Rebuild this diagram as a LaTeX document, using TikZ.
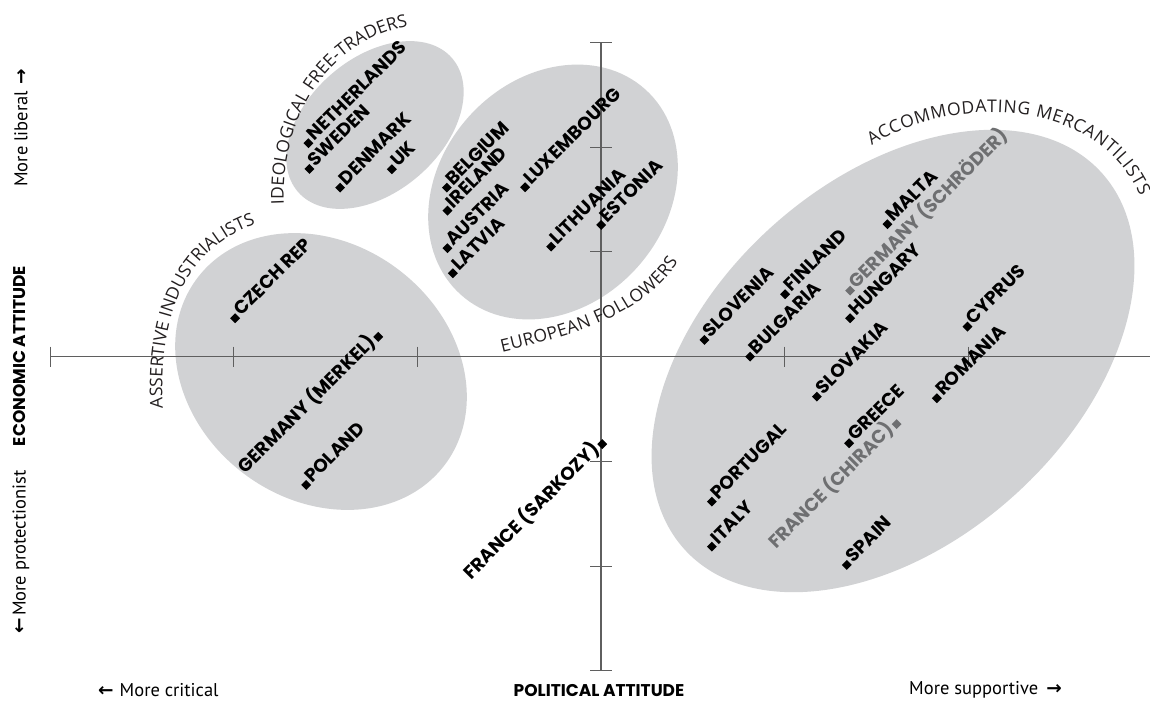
\documentclass[tikz,border=0pt]{standalone}
\usepackage{fontspec}
\setmainfont{PT Sans}
\newfontfamily\cfont{Poppins}
\newfontfamily\gfont{Open Sans}
\newfontfamily\symfont{DejaVu Sans}
\usetikzlibrary{shapes.geometric,decorations.text}
\definecolor{blobgray}{RGB}{209,210,212}
\definecolor{axisgray}{RGB}{95,95,95}
\definecolor{txtgray}{RGB}{110,111,113}
\definecolor{labcol}{RGB}{35,31,32}
\newcommand\mkbox{\rule{7pt}{7pt}}
\newcommand\glfont{\gfont\fontsize{17.5}{17.5}\selectfont}
\begin{document}
\begin{tikzpicture}[x=1pt,y=-1pt,
  blob/.style={ellipse, fill=blobgray, draw=none, inner sep=0pt},
  axisline/.style={draw=axisgray, line width=1.3pt},
  tickline/.style={draw=axisgray, line width=1pt},
  cty/.style={font=\cfont\bfseries\fontsize{18.5}{18.5}\selectfont, inner sep=0pt, rotate=45},
  ctyg/.style={cty, text=txtgray},
  axtitle/.style={font=\cfont\bfseries\fontsize{17}{17}\selectfont, inner sep=0pt},
  axnote/.style={font=\fontsize{18.5}{18.5}\selectfont, inner sep=0pt},
  grptext/.style={decorate, decoration={text along path, text align={fit to path}, text color=labcol, text={|\glfont|#1}}}]
\useasboundingbox (0,0) rectangle (1150,702);
\fill[white] (0,0) rectangle (1150,702);

% groups
\node[blob, minimum width=204pt, minimum height=134pt, rotate=41] (ift) at (375,125) {};
\node[blob, minimum width=276pt, minimum height=226pt, rotate=48] (ef) at (553,192) {};
\node[blob, minimum width=310pt, minimum height=256pt, rotate=-37] (ai) at (321,371.5) {};
\node[blob, minimum width=562pt, minimum height=362pt, rotate=42] (am) at (893,361) {};

% axes
\coordinate (hl) at (50,356.6);
\coordinate (hr) at (1150,356.6);
\coordinate (vt) at (601,42.5);
\coordinate (vb) at (601,670.7);
\draw[axisline] (hl) -- (hr);
\draw[axisline] (vt) -- (vb);
\foreach \x in {50,233.6,417.2,784.4,968} \draw[tickline] (\x,346.6) -- (\x,366.6);
\foreach \y in {42.5,147.2,251.9,461.3,566,670.7} \draw[tickline] (590,\y) -- (612,\y);

% group labels
\path[grptext={IDEOLOGICAL FREE-TRADERS}]
  (284,204) .. controls (280,122) and (325,42) .. (408,26);
\path[grptext={ACCOMMODATING MERCANTILISTS}]
  (872,146) .. controls (945,95) and (1097,95) .. (1140,196);
\path[grptext={ASSERTIVE INDUSTRIALISTS}]
  (163,408) .. controls (158,322) and (182,250) .. (254,225);
\path[grptext={EUROPEAN FOLLOWERS}]
  (502,352) .. controls (565,337) and (642,318) .. (678,262);

% countries (marker first)
\node[cty, anchor=base west] (nl) at (308.3,148.3) {\mkbox\hspace{2pt}NETHERLANDS};
\node[cty, anchor=base west] (se) at (309.3,174) {\mkbox\hspace{2pt}SWEDEN};
\node[cty, anchor=base west] (dk) at (340,192.7) {\mkbox\hspace{2pt}DENMARK};
\node[cty, anchor=base west] (uk) at (391.7,174.3) {\mkbox\hspace{2pt}UK};
\node[cty, anchor=base west] (be) at (446.7,192.7) {\mkbox\hspace{2pt}BELGIUM};
\node[cty, anchor=base west] (ie) at (447.3,215.7) {\mkbox\hspace{2pt}IRELAND};
\node[cty, anchor=base west] (at) at (447.3,253.3) {\mkbox\hspace{2pt}AUSTRIA};
\node[cty, anchor=base west] (lv) at (452.7,278.3) {\mkbox\hspace{2pt}LATVIA};
\node[cty, anchor=base west] (lu) at (525,192.3) {\mkbox\hspace{2pt}LUXEMBOURG};
\node[cty, anchor=base west] (lt) at (551,251.7) {\mkbox\hspace{2pt}LITHUANIA};
\node[cty, anchor=base west] (ee) at (601,230) {\mkbox\hspace{2pt}ESTONIA};
\node[cty, anchor=base west] (mt) at (887.3,229.3) {\mkbox\hspace{2pt}MALTA};
\node[ctyg, anchor=base west] (des) at (850,295.7) {\mkbox\hspace{2pt}GERMANY (SCHRÖDER)};
\node[cty, anchor=base west] (fi) at (785,299.3) {\mkbox\hspace{2pt}FINLAND};
\node[cty, anchor=base west] (si) at (704.3,345) {\mkbox\hspace{2pt}SLOVENIA};
\node[cty, anchor=base west] (bg) at (750,361.7) {\mkbox\hspace{2pt}BULGARIA};
\node[cty, anchor=base west] (hu) at (850,323.3) {\mkbox\hspace{2pt}HUNGARY};
\node[cty, anchor=base west] (cy) at (967.3,331.7) {\mkbox\hspace{2pt}CYPRUS};
\node[cty, anchor=base west] (sk) at (816.7,401.7) {\mkbox\hspace{2pt}SLOVAKIA};
\node[cty, anchor=base west] (ro) at (936.7,403.3) {\mkbox\hspace{2pt}ROMANIA};
\node[cty, anchor=base west] (gr) at (849,448.3) {\mkbox\hspace{2pt}GREECE};
\node[cty, anchor=base west] (pt) at (711.7,506.7) {\mkbox\hspace{2pt}PORTUGAL};
\node[cty, anchor=base west] (it) at (711.7,551.7) {\mkbox\hspace{2pt}ITALY};
\node[cty, anchor=base west] (es) at (846.7,570) {\mkbox\hspace{2pt}SPAIN};
\node[cty, anchor=base west] (cz) at (235,323.3) {\mkbox\hspace{2pt}CZECH REP};
\node[cty, anchor=base west] (pl) at (306,490) {\mkbox\hspace{2pt}POLAND};
% countries (marker last)
\node[cty, anchor=base east] (frs) at (607.3,444) {FRANCE (SARKOZY)\hspace{2pt}\mkbox};
\node[cty, anchor=base east] (dem) at (383.3,336.7) {GERMANY (MERKEL)\hspace{2pt}\mkbox};
\node[ctyg, anchor=base east] (frc) at (901.7,424) {FRANCE (CHIRAC)\hspace{2pt}\mkbox};

% axis titles and notes
\node[axtitle, rotate=90] (econ) at (20,356) {ECONOMIC ATTITUDE};
\node[axtitle] (pol) at (599,690) {POLITICAL ATTITUDE};
\node[axnote, rotate=90] (lib) at (21,128) {More liberal\hspace{6pt}{\symfont\bfseries →}};
\node[axnote, rotate=90] (prot) at (21,552) {{\symfont\bfseries ←}\hspace{2pt}More protectionist};
\node[axnote, anchor=west] (crit) at (98,690) {{\symfont\bfseries ←}\hspace{6pt}More critical};
\node[axnote, anchor=west] (supp) at (909,690) {More supportive\hspace{8pt}{\symfont\bfseries →}};
\end{tikzpicture}
\end{document}
